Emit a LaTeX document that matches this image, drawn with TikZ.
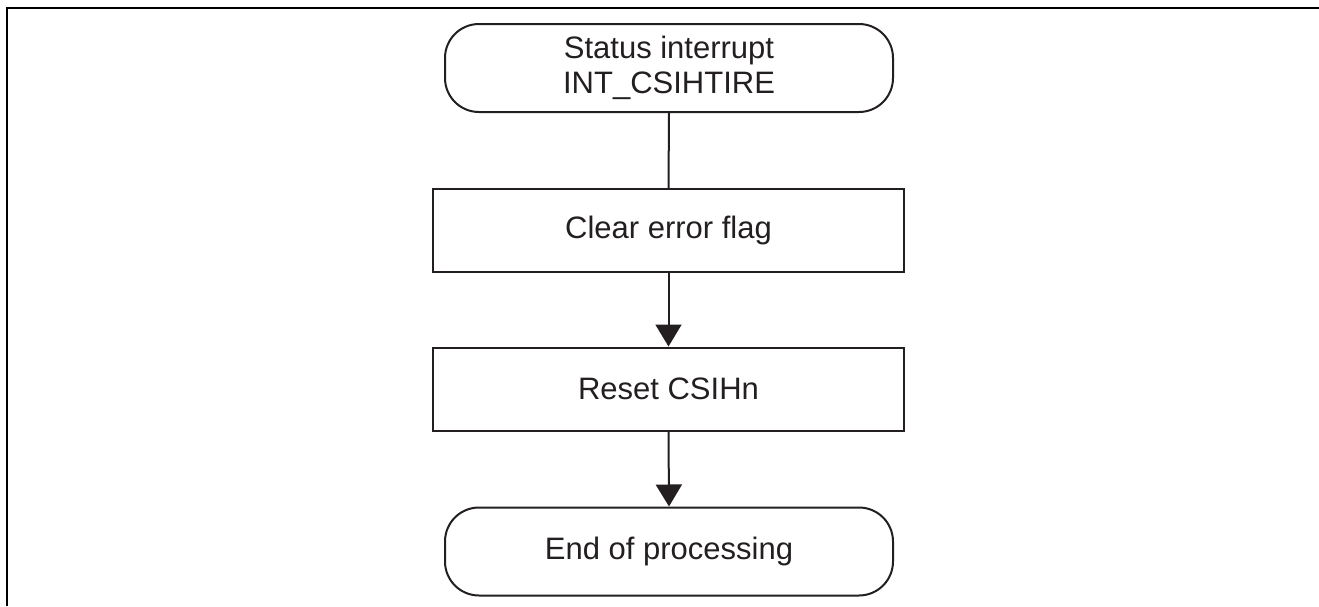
\documentclass[tikz,border=0pt]{standalone}
\usepackage{fontspec}
\setmainfont{Liberation Sans}
\usetikzlibrary{arrows.meta}
\definecolor{ink}{HTML}{231F20}
\tikzset{
  terminal/.style={draw=ink, line width=1pt, rounded corners=17pt,
    minimum width=224pt, minimum height=44pt, inner sep=0pt,
    align=center, text=ink, font=\fontsize{15.5}{17.8}\selectfont},
  process/.style={draw=ink, line width=1pt,
    minimum width=235.5pt, minimum height=41.5pt, inner sep=0pt,
    align=center, text=ink, font=\fontsize{15.5}{17.8}\selectfont},
  flow/.style={draw=ink, line width=1pt},
  flowarrow/.style={flow, -{Triangle[width=13pt,length=11pt]}},
  frame/.style={draw=black, line width=1.2pt}
}
\begin{document}
\begin{tikzpicture}[x=0.5pt, y=-0.5pt]
  \useasboundingbox (0,0) rectangle (1319,606);
  % page frame: top edge and left edge
  \draw[frame] (1319,8) -- (7,8) -- (7,606);

  \node[terminal] (start) at (669,68) {Status interrupt\\INT\_CSIHTIRE};
  \node[process]  (clear) at (668.5,230.5) {Clear error flag};
  \node[process]  (reset) at (668.5,389) {Reset CSIHn};
  \node[terminal] (stop)  at (669,551.5) {End of processing};

  \draw[flow] (start.south) -- (clear.north);
  \draw[flowarrow] (clear.south) -- (reset.north);
  \draw[flowarrow] (reset.south) -- (stop.north);
\end{tikzpicture}
\end{document}
